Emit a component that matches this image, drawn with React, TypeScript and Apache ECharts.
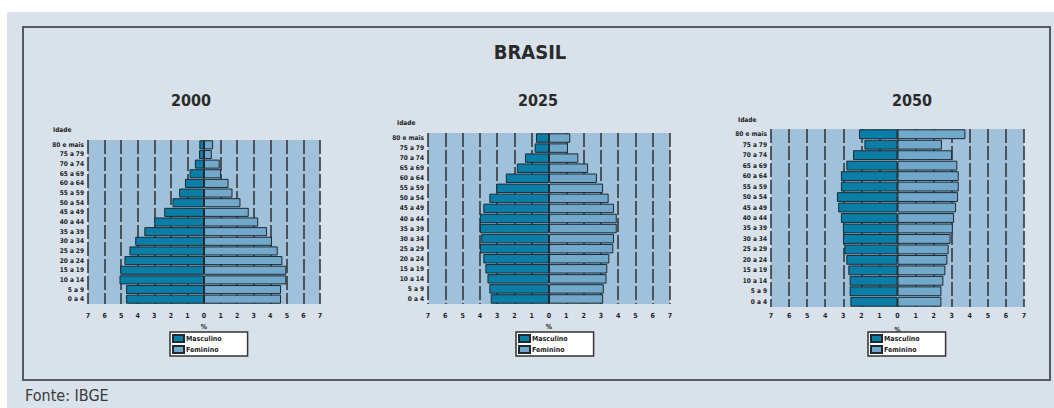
import React, { useEffect, useRef } from "react";
import * as echarts from "echarts";

const ageGroups = ["0 a 4", "5 a 9", "10 a 14", "15 a 19", "20 a 24", "25 a 29", "30 a 34", "35 a 39", "40 a 44", "45 a 49", "50 a 54", "55 a 59", "60 a 64", "65 a 69", "70 a 74", "75 a 79", "80 e mais"];

const years = ["2000", "2025", "2050"];

const male2000 = [4.7, 4.7, 5.1, 5.05, 4.8, 4.5, 4.15, 3.6, 3.0, 2.4, 1.9, 1.5, 1.15, 0.87, 0.55, 0.3, 0.28];
const female2000 = [4.65, 4.65, 4.97, 4.97, 4.73, 4.45, 4.1, 3.8, 3.27, 2.7, 2.2, 1.72, 1.48, 1.03, 0.95, 0.47, 0.55];

const male2025 = [3.37, 3.45, 3.56, 3.68, 3.8, 4.0, 3.92, 4.0, 4.0, 3.8, 3.45, 3.05, 2.5, 1.86, 1.39, 0.83, 0.75];
const female2025 = [3.13, 3.17, 3.33, 3.37, 3.49, 3.72, 3.76, 3.92, 3.92, 3.76, 3.45, 3.13, 2.77, 2.26, 1.7, 1.1, 1.23];

const male2050 = [2.61, 2.65, 2.65, 2.72, 2.83, 2.94, 3.02, 3.02, 3.13, 3.28, 3.35, 3.13, 3.13, 2.83, 2.46, 1.83, 2.13];
const female2050 = [2.43, 2.43, 2.54, 2.65, 2.76, 2.83, 2.94, 3.06, 3.13, 3.24, 3.35, 3.39, 3.39, 3.31, 3.02, 2.46, 3.76];

const maleData = [male2000, male2025, male2050];
const femaleData = [female2000, female2025, female2050];

const FONT = "'Liberation Sans Narrow', 'DejaVu Sans Condensed', 'Open Sans', sans-serif";

export default function App() {
  const ref = useRef<HTMLDivElement>(null);
  useEffect(() => {
    if (!ref.current) return;
    const chart = echarts.init(ref.current, undefined, { renderer: "svg" });

    const grids = [
      { left: 88, top: 140, width: 232, height: 164 },
      { left: 428, top: 133, width: 242, height: 171 },
      { left: 771, top: 129, width: 253, height: 178 },
    ];
    const titleX = [191, 538, 912];
    const idadeX = [[53, 130], [397, 123], [738, 120]];
    const legendPos = [[170, 332], [516, 332], [868, 332]];

    const MALE = "#0a7ea7";
    const FEMALE = "#72a8c9";

    const xAxes = grids.map((g, i) => ({
      type: "value",
      gridIndex: i,
      min: -7,
      max: 7,
      interval: 1,
      axisLine: { show: false },
      axisTick: { show: false },
      axisLabel: {
        formatter: (v: number) => String(Math.abs(v)),
        fontSize: 7,
        fontWeight: "bold",
        color: "#222",
        fontFamily: FONT,
        margin: i === 2 ? 5 : 8,
      },
      splitLine: { show: true, lineStyle: { color: "#2b2f33", width: 1.5, type: [14, 3] } },
      name: "%",
      nameLocation: "middle",
      nameGap: 19,
      nameTextStyle: { fontSize: 7, fontWeight: "bold", color: "#222", fontFamily: FONT },
    }));

    const yAxes = grids.map((g, i) => ({
      type: "category",
      gridIndex: i,
      data: ageGroups,
      axisLine: { show: false },
      axisTick: { show: false },
      axisLabel: { fontSize: 6.5, fontWeight: "bold", color: "#222", fontFamily: FONT, margin: 4, interval: 0 },
    }));

    const series: any[] = [];
    for (let i = 0; i < 3; i++) {
      series.push({
        name: "Masculino",
        type: "bar",
        xAxisIndex: i,
        yAxisIndex: i,
        stack: "p" + i,
        barCategoryGap: "6%",
        data: maleData[i].map((v) => -v),
        itemStyle: { color: MALE, borderColor: "#1c2a33", borderWidth: 1 },
      });
      series.push({
        name: "Feminino",
        type: "bar",
        xAxisIndex: i,
        yAxisIndex: i,
        stack: "p" + i,
        barCategoryGap: "6%",
        data: femaleData[i],
        itemStyle: { color: FEMALE, borderColor: "#1c2a33", borderWidth: 1 },
      });
    }

    const legends = legendPos.map(([x, y]) => ({
      left: x,
      top: y,
      orient: "vertical",
      data: ["Masculino", "Feminino"],
      backgroundColor: "#ffffff",
      borderColor: "#333",
      borderWidth: 1.5,
      borderRadius: 0,
      padding: [2, 26, 2, 2],
      itemGap: 2,
      itemWidth: 11,
      itemHeight: 7,
      icon: "rect",
      textStyle: { fontSize: 7, fontWeight: "bold", color: "#222", fontFamily: FONT, padding: [0, 0, 0, -3] },
      selectedMode: false,
    }));

    const graphic: any[] = [
      { type: "rect", z: -10, shape: { x: 7, y: 12, width: 1047, height: 396 }, style: { fill: "#d9e2eb" } },
      { type: "rect", z: -9, shape: { x: 23, y: 27, width: 1027, height: 353 }, style: { fill: "none", stroke: "#555a60", lineWidth: 2 } },
      { type: "text", x: 530, y: 52, style: { text: "BRASIL", fontSize: 20, fontWeight: "bold", fill: "#2a2a2a", fontFamily: FONT, align: "center", verticalAlign: "middle" } },
      { type: "text", x: 25, y: 395, style: { text: "Fonte: IBGE", fontSize: 16, fill: "#3a3a3a", fontFamily: FONT, align: "left", verticalAlign: "middle" } },
    ];
    years.forEach((yr, i) => {
      graphic.push({ type: "text", x: titleX[i], y: 100, style: { text: yr, fontSize: 16, fontWeight: "bold", fill: "#2a2a2a", fontFamily: FONT, align: "center", verticalAlign: "middle" } });
      graphic.push({ type: "text", x: idadeX[i][0], y: idadeX[i][1], style: { text: "Idade", fontSize: 6.5, fontWeight: "bold", fill: "#222", fontFamily: FONT, align: "left", verticalAlign: "middle" } });
    });

    chart.setOption({
      animation: false,
      backgroundColor: "#ffffff",
      grid: grids.map((g) => ({ ...g, show: true, backgroundColor: "#a0c1d9", borderWidth: 0, containLabel: false })),
      xAxis: xAxes,
      yAxis: yAxes,
      series,
      legend: legends,
      graphic,
    });
    return () => chart.dispose();
  }, []);
  return <div ref={ref} style={{ position: "absolute", left: 0, top: 0, width: 1054, height: 408 }} />;
}
